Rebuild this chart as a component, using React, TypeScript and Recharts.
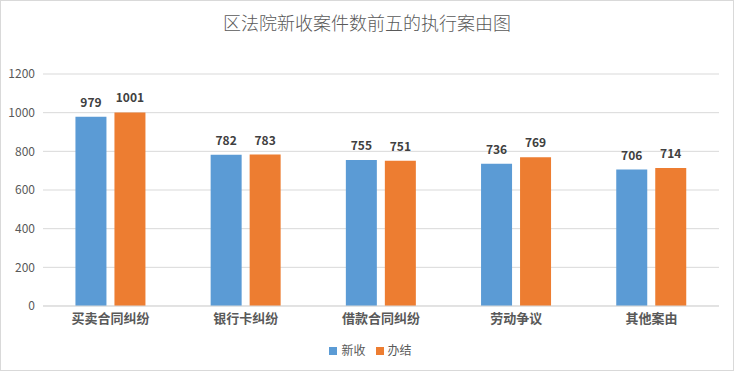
import React from 'react';
import { BarChart, Bar, XAxis, YAxis, CartesianGrid, Legend, LabelList } from 'recharts';

const categories = ['买卖合同纠纷', '银行卡纠纷', '借款合同纠纷', '劳动争议', '其他案由'];
const received = [979, 782, 755, 736, 706];
const closed = [1001, 783, 751, 769, 714];
const yTicks = [0, 200, 400, 600, 800, 1000, 1200];
const seriesOrder = ['新收', '办结'];

const data = categories.map((name, i) => ({ name, received: received[i], closed: closed[i] }));

const FONT = '"Noto Sans CJK SC", "Liberation Sans", sans-serif';

export default function App() {
  return (
    <div style={{ position: 'relative', width: 734, height: 371, background: '#fff', fontFamily: FONT }}>
      <style>{'body{margin:0}'}</style>
      <div
        style={{
          position: 'absolute', top: 9, left: 0, width: 734, textAlign: 'center',
          fontSize: 18, color: '#595959', fontWeight: 300, zIndex: 2,
        }}
      >
        区法院新收案件数前五的执行案由图
      </div>
      <BarChart
        width={734}
        height={371}
        data={data}
        margin={{ top: 74, right: 15, left: 0, bottom: 11 }}
        barCategoryGap="24%"
        barGap={8}
      >
        <CartesianGrid vertical={false} stroke="#d9d9d9" />
        <XAxis
          dataKey="name"
          tickLine={false}
          axisLine={{ stroke: '#d9d9d9' }}
          height={30}
          tick={{ fill: '#595959', fontSize: 13, fontWeight: 'bold', fontFamily: FONT }}
        />
        <YAxis
          width={43}
          domain={[0, 1200]}
          ticks={yTicks}
          tickLine={false}
          axisLine={false}
          tick={{ fill: '#595959', fontSize: 12, fontFamily: FONT }}
        />
        <Legend
          verticalAlign="bottom"
          align="center"
          iconType="square"
          iconSize={8}
          wrapperStyle={{ left: 16 }}
          itemSorter={(item: any) => seriesOrder.indexOf(item.value)}
          formatter={(v) => <span style={{ color: '#595959', fontSize: 12 }}>{v}</span>}
        />
        <Bar dataKey="received" name="新收" fill="#5b9bd5" isAnimationActive={false}>
          <LabelList dataKey="received" position="top" offset={10} fill="#404040" fontSize={12} fontWeight="bold" />
        </Bar>
        <Bar dataKey="closed" name="办结" fill="#ed7d31" isAnimationActive={false}>
          <LabelList dataKey="closed" position="top" offset={10} fill="#404040" fontSize={12} fontWeight="bold" />
        </Bar>
      </BarChart>
      <div
        style={{
          position: 'absolute', inset: 0, border: '1px solid #d9d9d9', boxSizing: 'border-box', pointerEvents: 'none',
        }}
      />
    </div>
  );
}
